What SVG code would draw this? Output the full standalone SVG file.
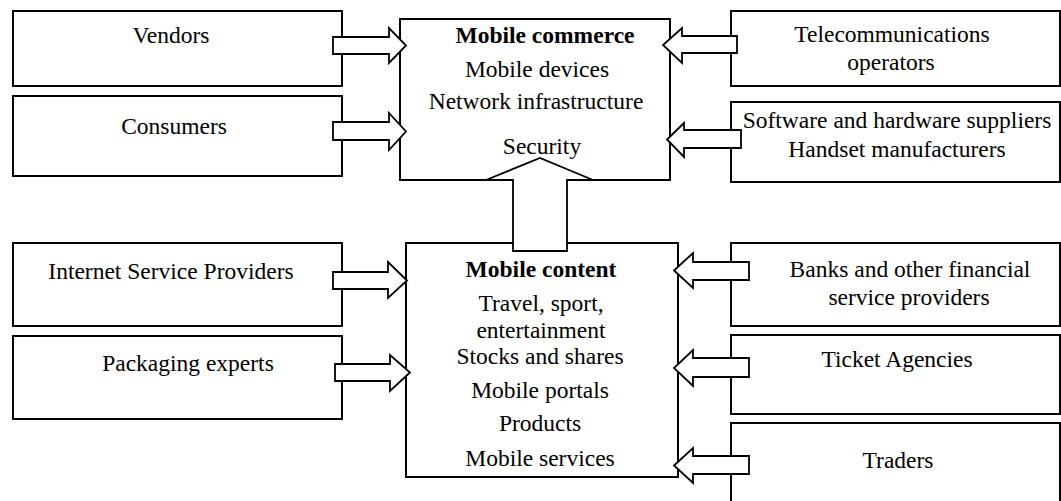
<svg xmlns="http://www.w3.org/2000/svg" width="1061" height="501" viewBox="0 0 1061 501">
<style>
.box{fill:#fff;stroke:#000;stroke-width:2}
.arr{fill:#fff;stroke:#000;stroke-width:1.8;stroke-linejoin:miter}
text{font-family:"Liberation Serif","Times New Roman",serif;font-size:23.5px;fill:#000;text-anchor:middle}
.b{font-weight:bold}
</style>
<rect width="1061" height="501" fill="#fff"/>
<g id="vendors"><rect class="box" x="13" y="11" width="329" height="75"/><text x="171" y="43">Vendors</text></g>
<g id="consumers"><rect class="box" x="13" y="96" width="329" height="80"/><text x="174" y="134">Consumers</text></g>
<g id="isp"><rect class="box" x="13" y="243" width="329" height="83"/><text x="171" y="279">Internet Service Providers</text></g>
<g id="packaging"><rect class="box" x="13" y="336" width="329" height="83"/><text x="188" y="371">Packaging experts</text></g>
<g id="commerce"><rect class="box" x="400" y="19" width="270" height="161"/>
<text class="b" x="545" y="43">Mobile commerce</text>
<text x="537" y="77">Mobile devices</text>
<text x="536" y="109">Network infrastructure</text>
<text x="542" y="154">Security</text></g>
<g id="content"><rect class="box" x="406" y="243" width="272" height="234"/>
<text class="b" x="541" y="277">Mobile content</text>
<text x="541" y="311">Travel, sport,</text>
<text x="541" y="338">entertainment</text>
<text x="540" y="364">Stocks and shares</text>
<text x="540" y="398">Mobile portals</text>
<text x="540" y="431">Products</text>
<text x="540" y="466">Mobile services</text></g>
<g id="telecom"><rect class="box" x="731" y="11" width="329" height="75"/>
<text x="892" y="42">Telecommunications</text><text x="891" y="70">operators</text></g>
<g id="software"><rect class="box" x="731" y="102" width="329" height="80"/>
<text x="897" y="128">Software and hardware suppliers</text><text x="897" y="157">Handset manufacturers</text></g>
<g id="banks"><rect class="box" x="731" y="243" width="329" height="83"/>
<text x="910" y="277">Banks and other financial</text><text x="909" y="305">service providers</text></g>
<g id="ticket"><rect class="box" x="731" y="335" width="329" height="79"/><text x="897" y="367">Ticket Agencies</text></g>
<g id="traders"><rect class="box" x="731" y="423" width="329" height="95"/><text x="898" y="468">Traders</text></g>
<g id="connectors">
<polygon class="arr" points="333,37 389,37 389,28 406,45.5 389,63 389,54 333,54"/>
<polygon class="arr" points="333,122 389,122 389,113 406,131.5 389,150 389,140 333,140"/>
<polygon class="arr" points="333,272 388,272 388,262 407,280.5 388,298 388,289 333,289"/>
<polygon class="arr" points="335,364 390,364 390,355 410,372.5 390,391 390,381 335,381"/>
<polygon class="arr" points="737,36 682,36 682,28 663,45 682,63 682,53 737,53"/>
<polygon class="arr" points="741,130 684,130 684,123 667,139.5 684,157 684,148 741,148"/>
<polygon class="arr" points="749,262 693,262 693,253 674,270.5 693,288 693,280 749,280"/>
<polygon class="arr" points="749,358 693,358 693,350 674,368 693,386 693,377 749,377"/>
<polygon class="arr" points="749,456 693,456 693,448 674,465.5 693,483 693,474 749,474"/>
<polygon class="arr" points="513,251 513,180 486,180 540,158 593,180 567,180 567,251"/>
</g>
</svg>
